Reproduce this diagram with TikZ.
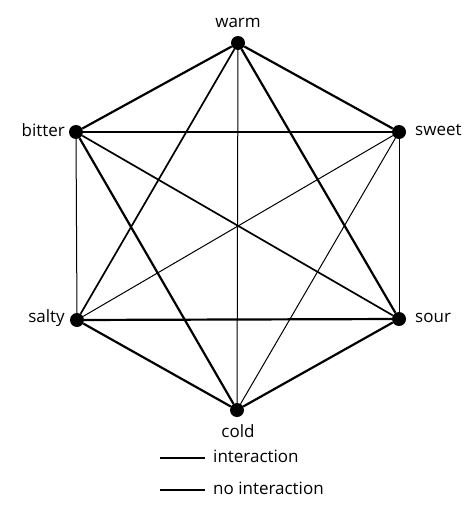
\documentclass[tikz,border=0pt]{standalone}
\usepackage{fontspec}
\setmainfont{Open Sans}
\begin{document}
\begin{tikzpicture}[x=1pt,y=-1pt,
  dot/.style={circle,fill=black,inner sep=0pt,minimum size=14pt},
  lbl/.style={font=\fontsize{17}{19}\selectfont,inner sep=0pt},
  strong/.style={line width=2.2pt},
  medium/.style={line width=1.7pt},
  weak/.style={line width=1.0pt}]
\useasboundingbox (0,0) rectangle (473,506);
\node[dot] (warm) at (238,43) {};
\node[dot] (bitter) at (76,132) {};
\node[dot] (sweet) at (399,132) {};
\node[dot] (salty) at (77,320) {};
\node[dot] (sour) at (399,319) {};
\node[dot] (cold) at (237,410) {};
\node[lbl,anchor=south] (lwarm) at (238,28) {warm};
\node[lbl,anchor=east] (lbitter) at (65,130) {bitter};
\node[lbl,anchor=west] (lsweet) at (415,130) {sweet};
\node[lbl,anchor=east] (lsalty) at (65,318) {salty};
\node[lbl,anchor=west] (lsour) at (415,318) {sour};
\node[lbl,anchor=north] (lcold) at (238,424) {cold};
\draw[strong] (warm) -- (bitter);
\draw[strong] (warm) -- (sweet);
\draw[strong] (warm) -- (sour);
\draw[medium] (warm) -- (salty);
\draw[weak] (warm) -- (cold);
\draw[medium] (bitter) -- (sweet);
\draw[weak] (bitter) -- (salty);
\draw[strong] (bitter) -- (cold);
\draw[medium] (bitter) -- (sour);
\draw[weak] (sweet) -- (sour);
\draw[weak] (sweet) -- (salty);
\draw[weak] (sweet) -- (cold);
\draw[strong] (salty) -- (sour);
\draw[strong] (salty) -- (cold);
\draw[strong] (sour) -- (cold);
\coordinate (a1) at (160,458);
\coordinate (a2) at (205,458);
\coordinate (b1) at (160,490);
\coordinate (b2) at (205,490);
\draw[line width=1.8pt] (a1) -- (a2);
\draw[line width=1.3pt] (b1) -- (b2);
\node[lbl,anchor=west] (tint) at (213,456) {interaction};
\node[lbl,anchor=west] (tno) at (213,488) {no interaction};
\end{tikzpicture}
\end{document}
